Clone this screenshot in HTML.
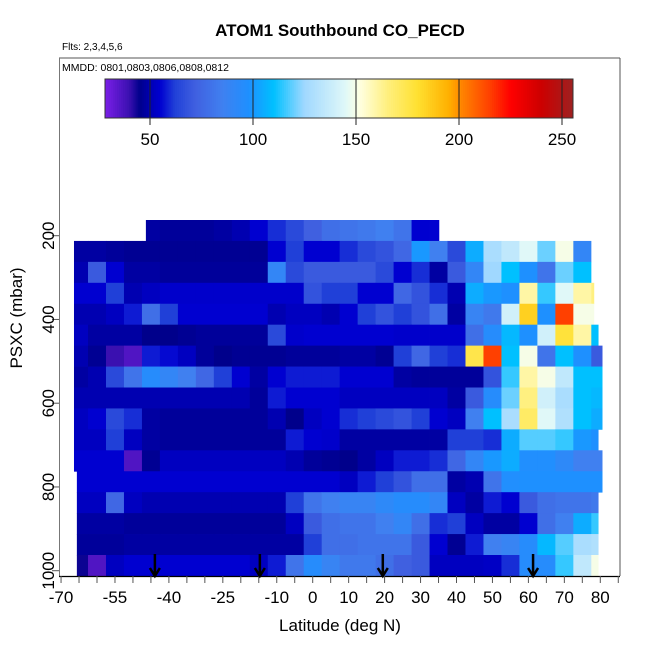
<!DOCTYPE html>
<html><head><meta charset="utf-8"><style>
html,body{margin:0;padding:0;background:#fff;}
svg{display:block;font-family:"Liberation Sans",Arial,sans-serif;}
</style></head><body>
<svg id="chart" width="650" height="650" viewBox="0 0 650 650" xmlns="http://www.w3.org/2000/svg">
<text x="340" y="36" font-size="17" font-weight="bold" text-anchor="middle">ATOM1 Southbound CO_PECD</text>
<text x="62" y="50" font-size="10">Flts: 2,3,4,5,6</text>
<text x="62" y="71" font-size="10.5">MMDD: 0801,0803,0806,0808,0812</text>
<g id="cells"></g>
<g id="cbar"></g>
<g id="axes"></g>
<text x="340" y="631" font-size="17" text-anchor="middle">Latitude (deg N)</text>
<text x="0" y="0" font-size="17" text-anchor="middle" transform="translate(22,318) rotate(-90)">PSXC (mbar)</text>
</svg>
<script>
const cellLats=[-65,-60,-55,-50,-45,-40,-35,-30,-25,-20,-15,-10,-5,0,5,10,15,20,25,30,35,40,45,50,55,60,65,70,75,80];
const rowPressures=[187.5,237.5,287.5,337.5,387.5,437.5,487.5,537.5,587.5,637.5,687.5,737.5,787.5,837.5,887.5,937.5,987.5];
const rowLatStart=[-46.4,-66.4,-66.4,-66.4,-66.4,-66.4,-66.4,-66.4,-66.4,-66.4,-66.4,-66.4,-65.6,-65.6,-65.6,-65.6,-65.6];
const rowLatEnd=[35.1,77.4,77.4,78.2,78.2,79.4,80.5,80.5,80.5,80.5,79.4,80.5,80.5,79.4,79.4,79.4,79.4];
const row0=[50,50,50,50,48,47,47,47,48,50,55,60,65,72,78,80,82,85,80,55,55,50,50,50,50,50,50,50,50,50];
const row1=[48,48,47,46,46,46,46,46,46,46,46,55,62,55,55,60,65,68,75,100,85,65,105,128,135,145,120,150,90,60];
const row2=[50,70,55,48,48,47,47,47,47,47,47,90,65,70,70,70,70,65,55,60,48,70,90,125,110,98,80,120,110,100];
const row3=[55,55,62,50,52,54,54,54,54,54,54,54,54,68,62,62,55,55,75,68,60,50,105,100,98,160,115,145,160,165];
const row4=[50,50,52,58,78,62,55,55,55,55,55,50,52,52,50,55,62,68,62,68,78,48,88,82,140,185,98,215,150,150];
const row5=[52,48,48,48,45,45,46,47,47,47,47,65,54,55,55,55,55,55,54,54,54,54,78,95,108,98,140,178,160,110];
const row6=[50,46,40,36,58,56,52,47,45,46,46,46,47,47,47,48,48,46,62,75,62,60,175,215,110,150,80,110,98,70];
const row7=[48,50,65,80,95,90,85,75,62,55,48,55,58,58,58,55,55,55,48,47,47,47,47,68,115,160,150,135,110,110];
const row8=[50,50,50,50,50,50,50,50,50,50,47,58,55,55,55,52,52,52,52,52,52,48,70,95,120,165,140,128,110,108];
const row9=[52,55,65,60,48,47,47,47,47,47,47,50,45,52,55,60,62,65,68,62,55,52,85,110,128,170,145,130,110,105];
const row10=[52,52,62,52,48,47,47,47,47,47,47,47,58,55,54,48,48,48,48,48,48,62,62,60,105,118,118,115,100,98];
const row11=[55,55,55,36,46,52,52,52,52,52,52,52,50,47,46,45,48,52,58,58,60,75,90,100,105,97,97,92,85,85];
const row12=[55,55,55,55,55,55,55,55,55,55,55,55,55,55,55,52,58,62,68,78,78,48,50,80,97,98,98,98,98,98];
const row13=[52,52,75,52,50,50,50,50,50,50,50,50,62,80,85,88,88,92,95,95,90,52,48,58,55,70,78,80,80,82];
const row14=[48,48,48,47,47,47,47,47,47,47,47,47,52,70,78,80,80,85,90,78,60,62,52,48,48,55,78,85,105,115];
const row15=[47,47,47,48,48,48,48,48,48,48,48,48,48,62,78,78,80,80,80,70,55,46,58,85,88,95,108,118,128,130];
const row16=[44,36,52,55,55,55,55,55,55,55,52,58,80,95,88,82,82,78,72,70,52,52,52,53,60,95,95,115,135,150];
const rows=[row0,row1,row2,row3,row4,row5,row6,row7,row8,row9,row10,row11,row12,row13,row14,row15,row16];
const cbTicks=[50,100,150,200,250];
const xTickLabels=[-70,-55,-40,-25,-10,0,10,20,30,40,50,60,70,80];
const yTickLabels=[200,400,600,800,1000];
const arrowLats=[-43.9,-14.7,19.5,61.3];

const NS="http://www.w3.org/2000/svg";
const xS=lat=>312.7+3.595*lat;
const yS=p=>235.7+(p-200)*0.41875;
const cbX=v=>150+(v-50)*2.06;
const stops=[[28,"#7b1fe8"],[40,"#3a10b0"],[45,"#00008b"],[52,"#0000c0"],[55,"#0000d0"],[62,"#2040d8"],[72,"#4060e0"],[85,"#4080f0"],[98,"#1e90ff"],[110,"#00c0ff"],[125,"#a0d8ff"],[145,"#e0f8f8"],[152,"#ffffe0"],[165,"#fff080"],[180,"#ffe030"],[195,"#ffb000"],[202,"#ff8000"],[215,"#ff4000"],[225,"#ff0000"],[240,"#cc0000"],[255,"#a02020"]];
function hx(c){return [1,3,5].map(i=>parseInt(c.substr(i,2),16));}
function cmap(v){
  if(v<=stops[0][0])return stops[0][1];
  for(let i=1;i<stops.length;i++){
    if(v<=stops[i][0]){
      const t=(v-stops[i-1][0])/(stops[i][0]-stops[i-1][0]);
      const a=hx(stops[i-1][1]),b=hx(stops[i][1]);
      return "rgb("+a.map((q,j)=>Math.round(q+(b[j]-q)*t)).join(",")+")";
    }
  }
  return stops[stops.length-1][1];
}
function mk(tag,attrs,parent){const e=document.createElementNS(NS,tag);for(const k in attrs)e.setAttribute(k,attrs[k]);parent.appendChild(e);return e;}

const cells=document.getElementById("cells");
rows.forEach((vals,r)=>{
  const p=rowPressures[r];
  const y0=yS(p-25),y1=yS(p+25);
  vals.forEach((v,k)=>{
    let l0=Math.max(cellLats[k]-2.5,rowLatStart[r]);
    let l1=Math.min(cellLats[k]+2.5,rowLatEnd[r]);
    if(l1<=l0)return;
    const rc=mk("rect",{x:xS(l0).toFixed(2),y:y0.toFixed(2),width:(xS(l1)-xS(l0)+0.4).toFixed(2),height:(y1-y0+0.4).toFixed(2),fill:cmap(v)},cells);
    
    
  });
});

const cb=document.getElementById("cbar");
for(let v=28;v<255;v+=1){
  const r=mk("rect",{x:cbX(v).toFixed(2),y:79,width:2.6,height:39,fill:cmap(v+0.5)},cb);
  
  
}
mk("rect",{x:105,y:79,width:468,height:39,fill:"none",stroke:"#333","stroke-width":1},cb);
cbTicks.forEach(t=>{
  const x=cbX(t);
  mk("line",{x1:x,y1:79,x2:x,y2:125,stroke:"#222","stroke-width":1},cb);
  const tx=mk("text",{x:x,y:145,"font-size":17,"text-anchor":"middle"},cb);
  tx.textContent=t;
  
  
});

const ax=document.getElementById("axes");
mk("line",{x1:59,y1:58,x2:620,y2:58,stroke:"#555","stroke-width":1},ax);
mk("line",{x1:620,y1:58,x2:620,y2:576,stroke:"#555","stroke-width":1},ax);
mk("line",{x1:59.5,y1:58,x2:59.5,y2:576,stroke:"#777","stroke-width":1},ax);
mk("line",{x1:59,y1:576.5,x2:620,y2:576.5,stroke:"#000","stroke-width":1.3},ax);
for(let l=-70;l<=85;l+=5){
  const x=xS(l);
  mk("line",{x1:x,y1:576,x2:x,y2:583,stroke:"#555","stroke-width":1},ax);
}
xTickLabels.forEach(l=>{
  const t=mk("text",{x:xS(l),y:603,"font-size":17,"text-anchor":"middle"},ax);
  t.textContent=l;
  
  
});
yTickLabels.forEach(p=>{
  const y=yS(p);
  mk("line",{x1:52,y1:y,x2:59,y2:y,stroke:"#555","stroke-width":1},ax);
  const t=mk("text",{x:0,y:0,"font-size":17,"text-anchor":"middle",transform:"translate(54,"+y+") rotate(-90)"},ax);
  t.textContent=p;
  
  
});
arrowLats.forEach(l=>{
  const x=xS(l);
  const g=mk("g",{},ax);
  
  
  mk("line",{x1:x,y1:554,x2:x,y2:576,stroke:"#000","stroke-width":2.5},g);
  mk("polyline",{points:(x-5)+",568 "+x+",576 "+(x+5)+",568",fill:"none",stroke:"#000","stroke-width":2.5},g);
});
</script>
</body></html>
